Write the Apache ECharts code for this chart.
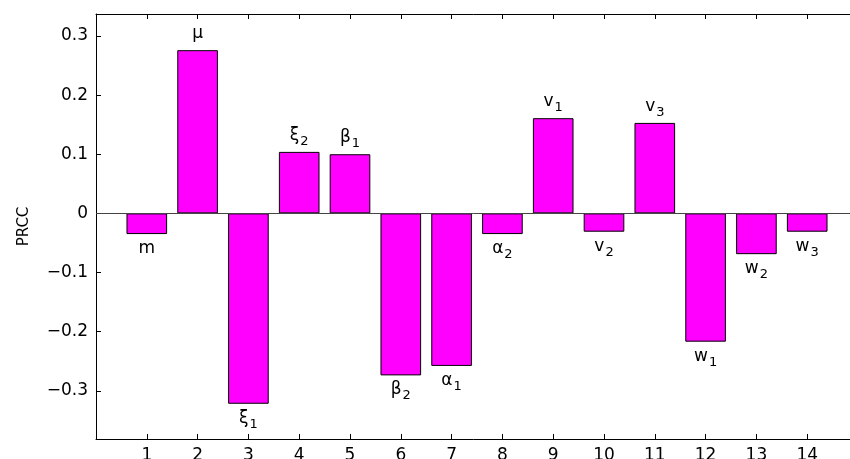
<!DOCTYPE html>
<html><head><meta charset="utf-8">
<script src="https://cdn.jsdelivr.net/npm/echarts@6/dist/echarts.min.js"></script>
<style>html,body{margin:0;padding:0;background:#fff}#c{width:850px;height:459px}</style>
</head><body><div id="c"></div>
<script>
const categories = [1, 2, 3, 4, 5, 6, 7, 8, 9, 10, 11, 12, 13, 14];
const prcc = [-0.035, 0.276, -0.322, 0.104, 0.100, -0.274, -0.258, -0.035, 0.161, -0.031, 0.153, -0.217, -0.069, -0.031];
const paramSymbols = ['m', 'μ', 'ξ', 'ξ', 'β', 'β', 'α', 'α', 'v', 'v', 'v', 'w', 'w', 'w'];
const paramSubs = ['', '', '1', '2', '1', '2', '1', '2', '1', '2', '3', '1', '2', '3'];
const yTicks = [-0.3, -0.2, -0.1, 0, 0.1, 0.2, 0.3];
const xTicks = categories;
// full x range 0..15 (ends unlabelled)
const xAxisCats = ['0'].concat(categories.map(String), ['15']);

const FONT = 'DejaVu Sans';
const chart = echarts.init(document.getElementById('c'), null, {renderer: 'canvas'});
const gridW = 762;
const xSpan = xAxisCats.length - 1;
const barW = 0.8 * gridW / xSpan;
const inner = (idx) => idx >= 1 && idx <= categories.length;

const option = {
  animation: false,
  backgroundColor: '#fff',
  grid: {left: 96, top: 14, width: gridW, height: 425, containLabel: false, outerBoundsMode: 'none'},
  xAxis: [{
    type: 'category', data: xAxisCats, boundaryGap: false, position: 'bottom',
    axisLine: {show: true, onZero: false, lineStyle: {color: '#000', width: 1}},
    axisTick: {show: true, inside: true, length: 5, interval: (i) => inner(i), lineStyle: {color: '#000'}},
    axisLabel: {show: true, interval: (i) => inner(i), margin: 8, color: '#000', fontFamily: FONT, fontSize: 17},
    splitLine: {show: false}
  }, {
    type: 'value', min: 0, max: xSpan, position: 'top',
    axisLine: {show: true, onZero: false, lineStyle: {color: '#000', width: 1}},
    axisTick: {show: true, inside: true, length: 5, customValues: xTicks, lineStyle: {color: '#000'}},
    axisLabel: {show: false},
    splitLine: {show: false}
  }],
  yAxis: [{
    type: 'value', min: -0.3816, max: 0.3372, position: 'left',
    name: 'PRCC', nameLocation: 'middle', nameGap: 64, nameRotate: 90,
    nameTextStyle: {color: '#000', fontFamily: FONT, fontSize: 15},
    axisLine: {show: true, onZero: false, lineStyle: {color: '#000', width: 1}},
    axisTick: {show: true, inside: true, length: 5, customValues: yTicks, lineStyle: {color: '#000'}},
    axisLabel: {
      show: true, customValues: yTicks, margin: 8, color: '#000', fontFamily: FONT, fontSize: 17,
      formatter: v => Math.abs(v) < 1e-9 ? '0' : (v < 0 ? '\u2212' : '') + Math.abs(v).toFixed(1)
    },
    splitLine: {show: false}
  }],
  series: [{
    type: 'bar',
    xAxisIndex: 0, yAxisIndex: 0,
    barWidth: barW,
    itemStyle: {color: '#ff00ff', borderColor: '#000', borderWidth: 1},
    data: prcc.map((v, i) => ({
      value: [categories[i], v],
      label: {position: v >= 0 ? 'top' : 'bottom', distance: v >= 0 ? 5 : 6}
    })),
    label: {
      show: true,
      formatter: p => {
        const i = p.dataIndex;
        return '{a|' + paramSymbols[i] + '}' + (paramSubs[i] ? '{s|' + paramSubs[i] + '}' : '');
      },
      rich: {
        a: {fontFamily: FONT, fontSize: 17, color: '#000', lineHeight: 20, verticalAlign: 'top'},
        s: {fontFamily: FONT, fontSize: 13, color: '#000', lineHeight: 12, padding: [8, 0, 0, 1], verticalAlign: 'top'}
      }
    },
    markLine: {
      silent: true, symbol: 'none',
      label: {show: false},
      lineStyle: {color: '#444', width: 1, type: 'solid'},
      data: [{yAxis: 0}]
    }
  }]
};
chart.setOption(option);
</script>
</body></html>
